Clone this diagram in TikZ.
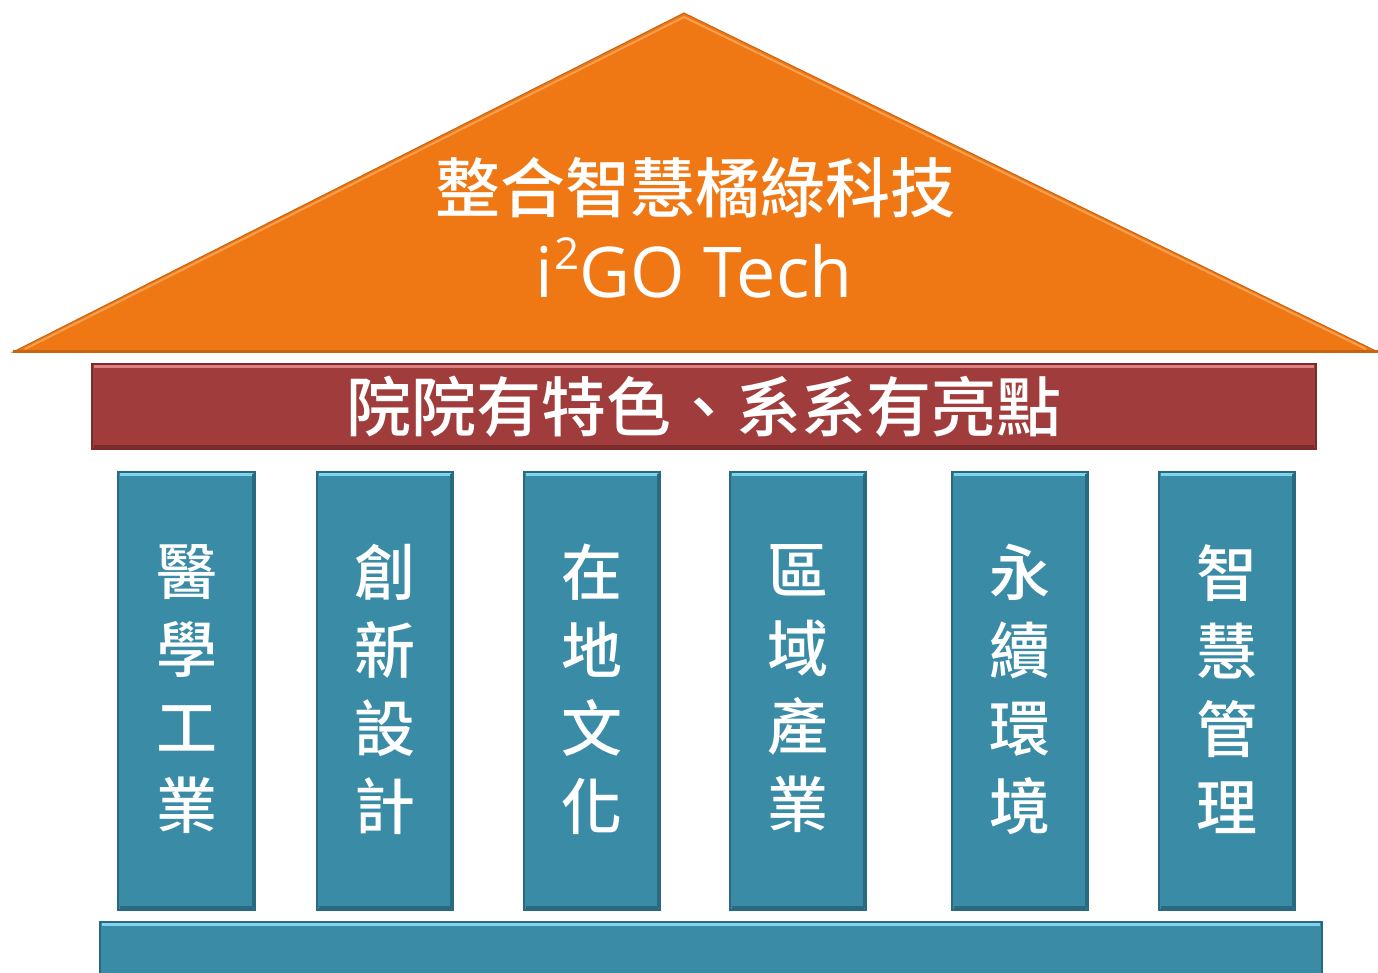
\documentclass[tikz,border=0pt]{standalone}
\usepackage{fontspec}
\usetikzlibrary{calc}
\newfontfamily\cjk{Noto Sans CJK TC Medium}
\newfontfamily\latinf{Open Sans}
\definecolor{roofc}{HTML}{F07814}
\definecolor{roofdark}{HTML}{C86410}
\definecolor{roofhi}{HTML}{F8A050}
\definecolor{beamc}{HTML}{A03C3C}
\definecolor{beamhi}{HTML}{E08080}
\definecolor{beamdark}{HTML}{7A2C2C}
\definecolor{pillc}{HTML}{3A8BA5}
\definecolor{pillhi}{HTML}{80D4EE}
\definecolor{pilldark}{HTML}{2A6A80}
\tikzset{
  pillarbox/.style={fill=pillc, draw=pilldark, line width=1.2pt},
  beambox/.style={fill=beamc, draw=beamdark, line width=1.2pt},
  rooftri/.style={fill=roofc, draw=roofdark, line width=1pt, line join=miter},
  hil/.style={line width=3pt},
  pilltext/.style={text=white, inner sep=0pt, align=center, font=\cjk\fontsize{61}{78}\selectfont},
  titletext/.style={text=white, inner sep=0pt, font=\cjk\fontsize{65}{70}\selectfont},
}
\begin{document}
\begin{tikzpicture}[x=1pt,y=-1pt]
\useasboundingbox (0,0) rectangle (1378,972);
% roof
\coordinate (apex) at (684,13);
\coordinate (rl) at (13,352);
\coordinate (rr) at (1378,352);
\path[rooftri] (apex) -- (rr) -- (rl) -- cycle;
\draw[roofhi, line width=2pt] ($(apex)+(0,4)$) -- ($(rl)+(12,-3)$);
\draw[roofhi, line width=2pt] ($(apex)+(0,4)$) -- ($(rr)+(-12,-3)$);
\draw[roofdark, line width=3pt] ($(rl)+(0,-1)$) -- ($(rr)+(0,-1)$);
\node[titletext] (title) at (695,188) {整合智慧橘綠科技};
\node[text=white, inner sep=0pt, font=\latinf\fontsize{70}{80}\selectfont] (sub) at (694,268) {i\kern1pt\raisebox{0.40em}{\fontsize{44}{44}\selectfont 2}GO Tech};
% beam
\path[beambox] (92,364) rectangle (1316,449);
\draw[beamhi, hil] (94,366.5) -- (1314,366.5);
\draw[beamdark, hil] (94,446.5) -- (1314,446.5);
\node[titletext] (beam) at (704,407) {院院有特色、系系有亮點};
% pillars
\foreach \xl/\xr/\txt/\nm in {118/255/醫\\學\\工\\業/p1, 317/453/創\\新\\設\\計/p2, 524/660/在\\地\\文\\化/p3, 730/866/區\\域\\產\\業/p4, 952/1088/永\\續\\環\\境/p5, 1159/1295/智\\慧\\管\\理/p6}{
  \path[pillarbox] (\xl,472) rectangle (\xr,910);
  \draw[pillhi, hil] (\xl+2,474.5) -- (\xr-2,474.5);
  \draw[pilldark, hil] (\xl+2,907.5) -- (\xr-2,907.5);
  \draw[pilldark, hil] (\xr-1.5,474) -- (\xr-1.5,908);
  \node[pilltext] (\nm) at ({(\xl+\xr)/2},689) {\txt};
}
% base
\path[pillarbox] (100,922) rectangle (1322,980);
\draw[pillhi, hil] (102,924.5) -- (1320,924.5);
\end{tikzpicture}
\end{document}
